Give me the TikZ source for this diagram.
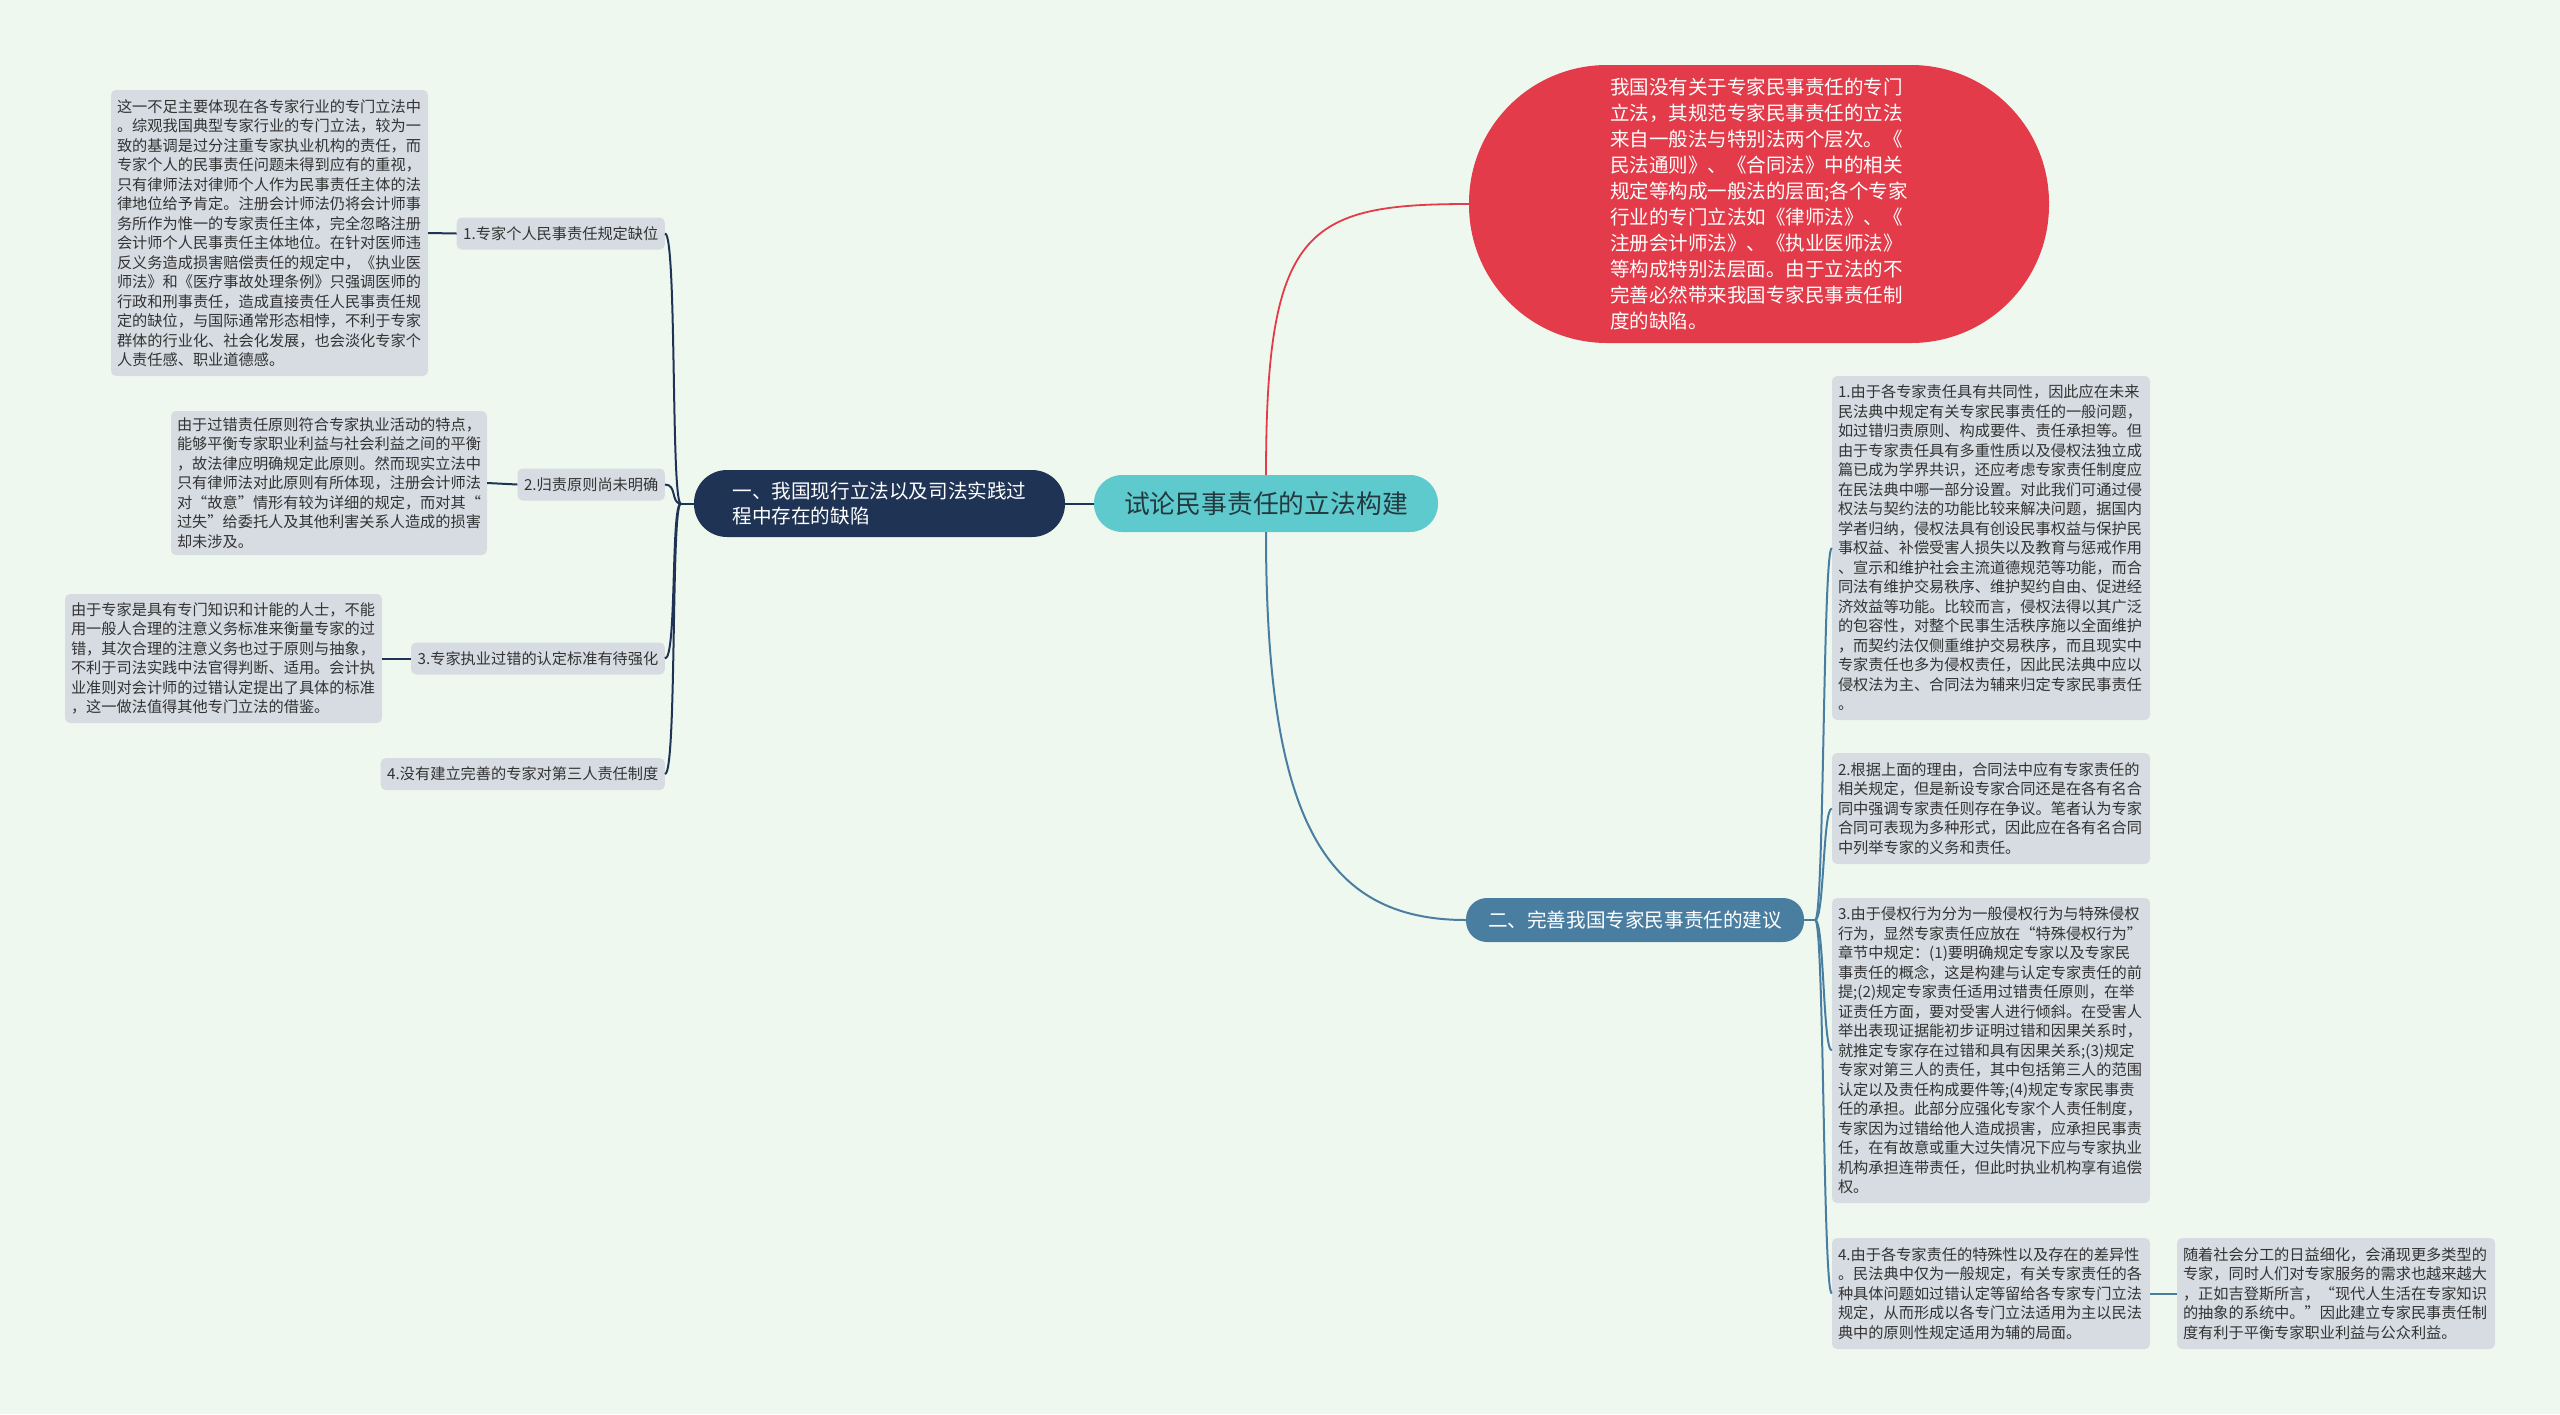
\documentclass[tikz,border=0pt]{standalone}
\usepackage{fontspec}
\setmainfont{Noto Sans CJK SC}
\usetikzlibrary{calc}
\definecolor{bgcol}{HTML}{EFF8EF}
\definecolor{rootcol}{HTML}{5ECACD}
\definecolor{roottext}{HTML}{23393F}
\definecolor{navycol}{HTML}{1F3455}
\definecolor{steelcol}{HTML}{4A7EA1}
\definecolor{redcol}{HTML}{E33B49}
\definecolor{leafcol}{HTML}{D6DCE2}
\definecolor{leaftext}{HTML}{333333}
\begin{document}
\begin{tikzpicture}[x=1pt,y=-1pt,
  centre/.style={fill=rootcol, text=roottext, rounded corners=28pt,
    minimum width=344pt, minimum height=57pt, font=\fontsize{25.8}{30}\selectfont},
  branchA/.style={fill=navycol, text=white, rounded corners=33pt, align=left,
    minimum width=371pt, minimum height=67pt, font=\fontsize{19.6}{24.5}\selectfont},
  branchB/.style={fill=steelcol, text=white, rounded corners=21pt,
    minimum width=338pt, minimum height=44pt, font=\fontsize{19.6}{24.5}\selectfont},
  redbox/.style={fill=redcol, text=white, rounded corners=138pt, align=left,
    minimum width=580pt, minimum height=278pt, font=\fontsize{19.5}{26}\selectfont},
  itembox/.style={fill=leafcol, text=leaftext, rounded corners=5pt, anchor=east,
    inner xsep=6.5pt, minimum height=32pt, font=\fontsize{15.2}{19.5}\selectfont},
  parabox/.style={fill=leafcol, text=leaftext, rounded corners=5pt, align=left,
    inner xsep=6pt, text width=#1, font=\fontsize{15.2}{19.5}\selectfont},
  lconn/.style={draw=navycol, line width=2pt},
  rconn/.style={draw=steelcol, line width=2pt},
  redconn/.style={draw=redcol, line width=1.8pt}]
  % --- page and background
  \useasboundingbox (0,0) rectangle (2560,1414);
  \fill[bgcol] (0,0) rectangle (2560,1414);

  % --- centre and the three main topics
  \node[centre] (root) at (1266,503.5) {试论民事责任的立法构建};
  \node[branchA] (b1) at (879.5,503.5) {一、我国现行立法以及司法实践过\\程中存在的缺陷};
  \node[branchB] (b2) at (1635,920) {二、完善我国专家民事责任的建议};
  \node[redbox] (red) at (1759,204) {我国没有关于专家民事责任的专门\\立法，其规范专家民事责任的立法\\来自一般法与特别法两个层次。《\\民法通则》、《合同法》中的相关\\规定等构成一般法的层面;各个专家\\行业的专门立法如《律师法》、《\\注册会计师法》、《执业医师法》\\等构成特别法层面。由于立法的不\\完善必然带来我国专家民事责任制\\度的缺陷。};

  % --- left side: four items, three of them with a paragraph
  \node[itembox] (l1) at (665,233.5) {1.专家个人民事责任规定缺位};
  \node[itembox] (l2) at (665,484.5) {2.归责原则尚未明确};
  \node[itembox] (l3) at (665,658.5) {3.专家执业过错的认定标准有待强化};
  \node[itembox] (l4) at (665,774) {4.没有建立完善的专家对第三人责任制度};

  \node[parabox=305pt, minimum height=286pt] (t1) at (269.5,233) {这一不足主要体现在各专家行业的专门立法中\\。综观我国典型专家行业的专门立法，较为一\\致的基调是过分注重专家执业机构的责任，而\\专家个人的民事责任问题未得到应有的重视，\\只有律师法对律师个人作为民事责任主体的法\\律地位给予肯定。注册会计师法仍将会计师事\\务所作为惟一的专家责任主体，完全忽略注册\\会计师个人民事责任主体地位。在针对医师违\\反义务造成损害赔偿责任的规定中，《执业医\\师法》和《医疗事故处理条例》只强调医师的\\行政和刑事责任，造成直接责任人民事责任规\\定的缺位，与国际通常形态相悖，不利于专家\\群体的行业化、社会化发展，也会淡化专家个\\人责任感、职业道德感。};
  \node[parabox=304pt, minimum height=144pt] (t2) at (329,483) {由于过错责任原则符合专家执业活动的特点，\\能够平衡专家职业利益与社会利益之间的平衡\\，故法律应明确规定此原则。然而现实立法中\\只有律师法对此原则有所体现，注册会计师法\\对“故意”情形有较为详细的规定，而对其“\\过失”给委托人及其他利害关系人造成的损害\\却未涉及。};
  \node[parabox=305pt, minimum height=129pt] (t3) at (223.5,658.5) {由于专家是具有专门知识和计能的人士，不能\\用一般人合理的注意义务标准来衡量专家的过\\错，其次合理的注意义务也过于原则与抽象，\\不利于司法实践中法官得判断、适用。会计执\\业准则对会计师的过错认定提出了具体的标准\\，这一做法值得其他专门立法的借鉴。};

  % --- right side: four suggestions and one follow-up paragraph
  \node[parabox=306pt, minimum height=344pt] (r1) at (1991,548) {1.由于各专家责任具有共同性，因此应在未来\\民法典中规定有关专家民事责任的一般问题，\\如过错归责原则、构成要件、责任承担等。但\\由于专家责任具有多重性质以及侵权法独立成\\篇已成为学界共识，还应考虑专家责任制度应\\在民法典中哪一部分设置。对此我们可通过侵\\权法与契约法的功能比较来解决问题，据国内\\学者归纳，侵权法具有创设民事权益与保护民\\事权益、补偿受害人损失以及教育与惩戒作用\\、宣示和维护社会主流道德规范等功能，而合\\同法有维护交易秩序、维护契约自由、促进经\\济效益等功能。比较而言，侵权法得以其广泛\\的包容性，对整个民事生活秩序施以全面维护\\，而契约法仅侧重维护交易秩序，而且现实中\\专家责任也多为侵权责任，因此民法典中应以\\侵权法为主、合同法为辅来归定专家民事责任\\。};
  \node[parabox=306pt, minimum height=111pt] (r2) at (1991,808.5) {2.根据上面的理由，合同法中应有专家责任的\\相关规定，但是新设专家合同还是在各有名合\\同中强调专家责任则存在争议。笔者认为专家\\合同可表现为多种形式，因此应在各有名合同\\中列举专家的义务和责任。};
  \node[parabox=306pt, minimum height=305pt] (r3) at (1991,1050.5) {3.由于侵权行为分为一般侵权行为与特殊侵权\\行为，显然专家责任应放在“特殊侵权行为”\\章节中规定：(1)要明确规定专家以及专家民\\事责任的概念，这是构建与认定专家责任的前\\提;(2)规定专家责任适用过错责任原则，在举\\证责任方面，要对受害人进行倾斜。在受害人\\举出表现证据能初步证明过错和因果关系时，\\就推定专家存在过错和具有因果关系;(3)规定\\专家对第三人的责任，其中包括第三人的范围\\认定以及责任构成要件等;(4)规定专家民事责\\任的承担。此部分应强化专家个人责任制度，\\专家因为过错给他人造成损害，应承担民事责\\任，在有故意或重大过失情况下应与专家执业\\机构承担连带责任，但此时执业机构享有追偿\\权。};
  \node[parabox=306pt, minimum height=111pt] (r4) at (1991,1293.5) {4.由于各专家责任的特殊性以及存在的差异性\\。民法典中仅为一般规定，有关专家责任的各\\种具体问题如过错认定等留给各专家专门立法\\规定，从而形成以各专门立法适用为主以民法\\典中的原则性规定适用为辅的局面。};
  \node[parabox=306pt, minimum height=111pt] (r5) at (2336,1293.5) {随着社会分工的日益细化，会涌现更多类型的\\专家，同时人们对专家服务的需求也越来越大\\，正如吉登斯所言，“现代人生活在专家知识\\的抽象的系统中。”因此建立专家民事责任制\\度有利于平衡专家职业利益与公众利益。};

  % --- connectors from the centre
  \draw[lconn] (root.west) -- (b1.east);
  \draw[redconn] (root.north) .. controls ($(root.north)+(0,-246)$) and ($(red.west)+(-163,0)$) .. (red.west);
  \draw[rconn] (root.south) .. controls ($(root.south)+(0,285)$) and ($(b2.west)+(-143,0)$) .. (b2.west);

  % --- left bracket
  \draw[lconn] (b1.west) -- ++(-13,0) coordinate (j1);
  \foreach \n in {l1,l2,l3,l4}{
    \draw[lconn] (j1) .. controls ($(j1)+(-10,0)$) and ($(\n.east)+(12,0)$) .. (\n.east);}
  \foreach \a/\b in {t1/l1,t2/l2,t3/l3}{
    \draw[lconn] (\a.east) -- (\b.west);}

  % --- right bracket
  \draw[rconn] (b2.east) -- ++(11,0) coordinate (j2);
  \foreach \n in {r1,r2,r3,r4}{
    \draw[rconn] (j2) .. controls ($(j2)+(9,0)$) and ($(\n.west)+(-9,0)$) .. (\n.west);}
  \draw[rconn] (r4.east) -- (r5.west);
\end{tikzpicture}
\end{document}
